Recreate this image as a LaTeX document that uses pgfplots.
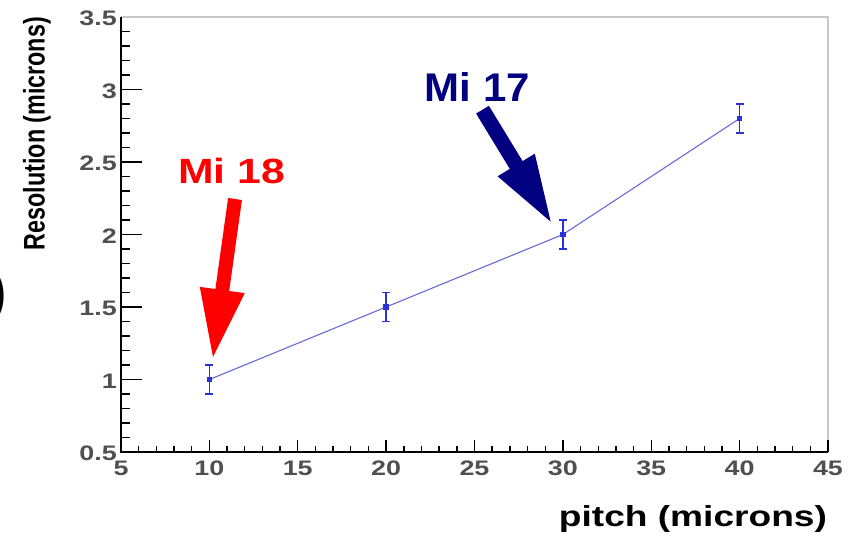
\documentclass[border=0pt]{standalone}
\usepackage{fontspec}
\setmainfont{Liberation Sans}
\newfontfamily\widesans[FakeStretch=1.28]{Liberation Sans}
\usepackage{pgfplots}
\usepackage{pgfplotstable}
\pgfplotsset{compat=1.18}
\definecolor{ticklab}{RGB}{80,80,80}
\definecolor{pointblue}{RGB}{40,50,215}
\definecolor{lineblue}{RGB}{105,105,220}
\definecolor{framegray}{RGB}{200,200,200}
\definecolor{arrownavy}{RGB}{0,0,128}

% resolution versus pitch, with symmetric uncertainties
\pgfplotstableread{
x  y   err
10 1.0 0.1
20 1.5 0.1
30 2.0 0.1
40 2.8 0.1
}\resdata

\pgfplotsset{
  frame geometry/.style={
    at={(121pt,90pt)}, anchor=south west,
    scale only axis, width=707pt, height=435pt,
    xmin=5, xmax=45, ymin=0.5, ymax=3.5,
    xtick={5,10,...,45}, ytick={0.5,1,...,3.5},
    minor x tick num=4, minor y tick num=4,
    tick align=inside, tick pos=left,
    axis line style={draw=none},
  },
}

\begin{document}
\begin{tikzpicture}
\useasboundingbox (0pt,0pt) rectangle (857pt,542pt);
% main axis: data, labels and the long y ticks
\begin{axis}[
  frame geometry,
  major tick length=21pt, minor tick length=9pt,
  major x tick style={draw=none}, minor x tick style={draw=none},
  major y tick style={line width=1.6pt, black},
  minor y tick style={line width=1.6pt, black},
  /pgf/number format/assume math mode=true,
  tick label style={font=\fontsize{21}{24}\widesans\bfseries, text=ticklab},
  xticklabel style={anchor=north, inner sep=0pt, yshift=-8.5pt},
  yticklabel style={anchor=east, inner sep=0pt, xshift=-4pt, yshift=-1.5pt},
  xlabel={pitch (microns)},
  xlabel style={at={(axis description cs:0.809,-0.1724)}, anchor=base,
    font=\fontsize{29}{32}\widesans\bfseries},
  ylabel={\scalebox{1}[1.28]{Resolution (microns)}},
  ylabel style={at={(axis description cs:-0.1188,0.732)}, anchor=center,
    font=\fontsize{23.3}{26}\selectfont\bfseries},
  clip=false,
]
\addplot[lineblue, line width=1.1pt, mark=square*, mark size=2.3pt,
  mark options={pointblue, line width=0pt},
  error bars/.cd, y dir=both, y explicit,
  error bar style={pointblue, line width=1.3pt},
  error mark options={rotate=90, pointblue, mark size=4pt, line width=1.3pt}]
  table[x=x, y=y, y error=err]{\resdata};
% frame: light top/right edges, heavy left/bottom axes
\draw[framegray, line width=1.5pt] (rel axis cs:0,1) -- (rel axis cs:1,1) -- (rel axis cs:1,0);
\draw[black, line width=2pt] (rel axis cs:0,1) -- (rel axis cs:0,0) -- (rel axis cs:1,0);
\end{axis}
% overlay axis: the shorter x ticks only
\begin{axis}[
  frame geometry,
  major tick length=12pt, minor tick length=6.5pt,
  major x tick style={line width=1.4pt, black},
  minor x tick style={line width=1.4pt, black},
  major y tick style={draw=none}, minor y tick style={draw=none},
  xticklabels={}, yticklabels={},
]
\end{axis}

% annotation arrows
\fill[red] (228.1pt,344pt) -- (241.9pt,342pt) -- (229.2pt,251pt) -- (244.8pt,248.9pt)
  -- (213pt,185pt) -- (199.8pt,255.1pt) -- (215.4pt,253pt) -- cycle;
\fill[arrownavy] (476.1pt,428.4pt) -- (488.9pt,436.2pt) -- (522.6pt,380.9pt) -- (534.8pt,388.3pt)
  -- (550.7pt,320.3pt) -- (497.6pt,365.7pt) -- (509.8pt,373.1pt) -- cycle;

\node[anchor=base, text=red, font=\fontsize{35}{40}\selectfont\bfseries, inner sep=0pt]
  at (231.5pt,359pt) {\scalebox{1.22}[1]{Mi 18}};
\node[anchor=base, text=arrownavy, font=\fontsize{40}{44}\selectfont\bfseries, inner sep=0pt]
  at (477.5pt,440pt) {\scalebox{1.05}[1]{Mi 17}};

\node[anchor=east, inner sep=0pt, font=\fontsize{55}{60}\selectfont\bfseries] at (7pt,246pt) {)};
\end{tikzpicture}
\end{document}
